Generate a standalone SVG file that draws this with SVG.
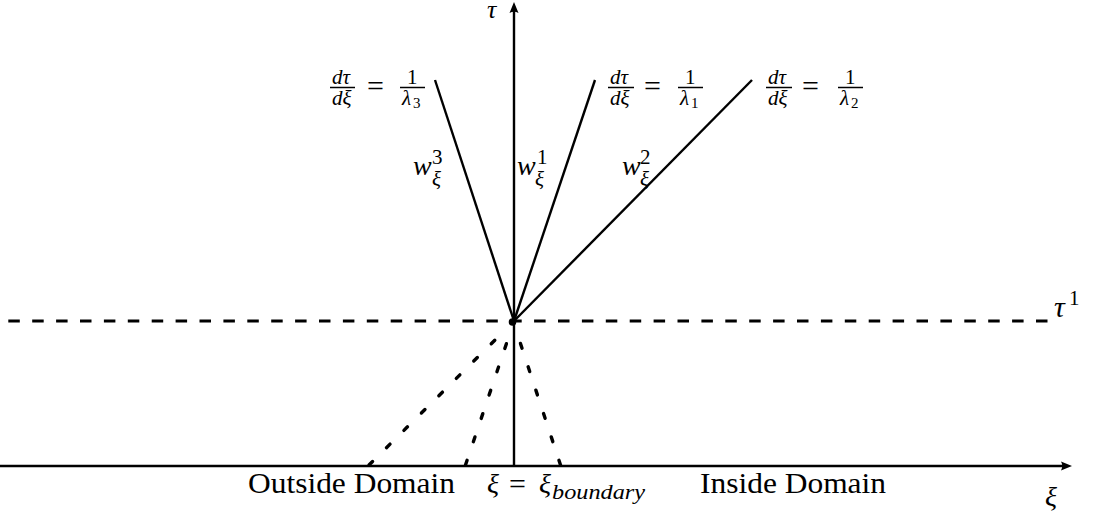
<svg xmlns="http://www.w3.org/2000/svg" width="1094" height="521" viewBox="0 0 1094 521">
<style>
.ax{stroke:#000;stroke-width:2.4;fill:none}
.ray{stroke:#000;stroke-width:2.4;fill:none}
.dsh{stroke:#000;stroke-width:3.2;fill:none;stroke-dasharray:11.5 12.4}
.dot{stroke:#000;stroke-width:3.4;fill:none;stroke-dasharray:5 19.6;stroke-linecap:round}
.bar{stroke:#000;stroke-width:1.5}
text{font-family:"Liberation Serif","Times New Roman",serif;fill:#000}
.mi{font-style:italic;font-size:28px}
.rm{font-size:30px}
.si{font-style:italic;font-size:21px}
.sr{font-size:21px}
.ss{font-size:15px}
.lab{font-size:30px}
</style>
<rect width="1094" height="521" fill="#fff"/>
<g id="connectors">
  <line class="ax" x1="0" y1="466" x2="1064" y2="466"/>
  <path d="M1072,466 L1061,470.5 Q1063.5,466 1061,461.5 Z" fill="#000"/>
  <line class="ax" x1="514" y1="466" x2="514" y2="10"/>
  <path d="M514,2 L518.5,13 Q514,10.5 509.5,13 Z" fill="#000"/>
  <line class="dsh" x1="8.3" y1="321" x2="1048" y2="321"/>
  <line class="ray" x1="514" y1="321" x2="435" y2="80"/>
  <line class="ray" x1="514" y1="321" x2="595" y2="80"/>
  <line class="ray" x1="514" y1="321" x2="752" y2="80"/>
  <line class="dot" x1="369" y1="465" x2="498" y2="337"/>
  <line class="dot" x1="465.5" y1="465" x2="508" y2="339"/>
  <line class="dot" x1="560.5" y1="465" x2="519" y2="339"/>
  <circle cx="512.5" cy="322" r="3.8" fill="#000"/>
</g>
<g id="axis-labels">
  <text class="mi" x="487" y="18" style="font-size:26px">τ</text>
  <text class="mi" x="1054" y="317" style="font-size:30px">τ</text>
  <text class="sr" x="1069" y="305">1</text>
  <text class="mi" x="1045" y="506">ξ</text>
</g>
<g id="slope3">
  <text class="si" x="332" y="84">dτ</text>
  <line class="bar" x1="330" y1="87.5" x2="355" y2="87.5"/>
  <text class="si" x="332" y="105">dξ</text>
  <text class="rm" x="367" y="96">=</text>
  <text class="sr" x="407" y="84">1</text>
  <line class="bar" x1="400" y1="87.5" x2="425" y2="87.5"/>
  <text class="si" x="402" y="105">λ</text>
  <text class="ss" x="413" y="108">3</text>
</g>
<g id="slope1">
  <text class="si" x="610" y="84">dτ</text>
  <line class="bar" x1="608" y1="87.5" x2="634" y2="87.5"/>
  <text class="si" x="610" y="105">dξ</text>
  <text class="rm" x="644" y="96">=</text>
  <text class="sr" x="685" y="84">1</text>
  <line class="bar" x1="678" y1="87.5" x2="703" y2="87.5"/>
  <text class="si" x="680" y="105">λ</text>
  <text class="ss" x="691" y="108">1</text>
</g>
<g id="slope2">
  <text class="si" x="768" y="84">dτ</text>
  <line class="bar" x1="766" y1="87.5" x2="792" y2="87.5"/>
  <text class="si" x="768" y="105">dξ</text>
  <text class="rm" x="802" y="96">=</text>
  <text class="sr" x="845" y="84">1</text>
  <line class="bar" x1="838" y1="87.5" x2="863" y2="87.5"/>
  <text class="si" x="840" y="105">λ</text>
  <text class="ss" x="851" y="108">2</text>
</g>
<g id="w3">
  <text class="mi" x="413" y="175">w</text>
  <text class="sr" x="432" y="164">3</text>
  <text class="si" x="432" y="186">ξ</text>
</g>
<g id="w1">
  <text class="mi" x="517" y="175">w</text>
  <text class="sr" x="537" y="164">1</text>
  <text class="si" x="535" y="186">ξ</text>
</g>
<g id="w2">
  <text class="mi" x="622" y="175">w</text>
  <text class="sr" x="640" y="164">2</text>
  <text class="si" x="640" y="186">ξ</text>
</g>
<g id="bottom-labels">
  <text class="lab" x="248" y="493" textLength="207" lengthAdjust="spacingAndGlyphs">Outside Domain</text>
  <text class="mi" x="487" y="493">ξ</text>
  <text class="rm" x="509" y="494">=</text>
  <text class="mi" x="539" y="493">ξ</text>
  <text class="si" x="552" y="499" textLength="93" lengthAdjust="spacingAndGlyphs">boundary</text>
  <text class="lab" x="700" y="493" textLength="186" lengthAdjust="spacingAndGlyphs">Inside Domain</text>
</g>
</svg>
